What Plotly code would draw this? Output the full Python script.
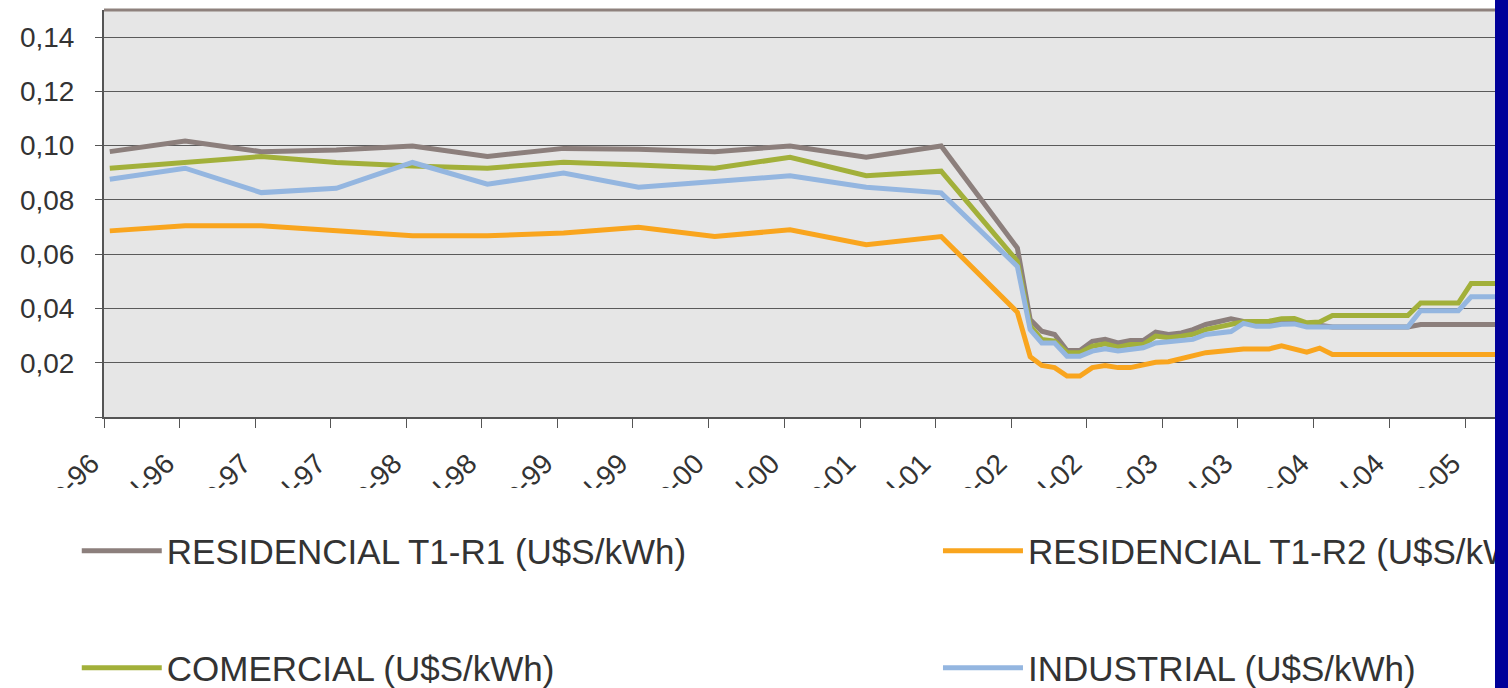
import plotly.graph_objects as go

# fechas: semestrales 1996-2001, luego mensuales 2002 - mar 2005
fechas_sem = ["1996-01-15", "1996-07-15", "1997-01-15", "1997-07-15",
              "1998-01-15", "1998-07-15", "1999-01-15", "1999-07-15",
              "2000-01-15", "2000-07-15", "2001-01-15", "2001-07-15"]
fechas_mes = [f"{a}-{m:02d}-15" for a in (2002, 2003, 2004) for m in range(1, 13)]
fechas_mes += ["2005-01-15", "2005-02-15", "2005-03-15"]
fechas = fechas_sem + fechas_mes

tick_vals = ["1996-01-01", "1996-07-01", "1997-01-01", "1997-07-01",
             "1998-01-01", "1998-07-01", "1999-01-01", "1999-07-01",
             "2000-01-01", "2000-07-01", "2001-01-01", "2001-07-01",
             "2002-01-01", "2002-07-01", "2003-01-01", "2003-07-01",
             "2004-01-01", "2004-07-01", "2005-01-01"]
tick_text = ["ene-96", "jul-96", "ene-97", "jul-97", "ene-98", "jul-98",
             "ene-99", "jul-99", "ene-00", "jul-00", "ene-01", "jul-01",
             "ene-02", "jul-02", "ene-03", "jul-03", "ene-04", "jul-04", "ene-05"]

residencial_r1 = [
    0.0978, 0.1017, 0.0978, 0.0984, 0.0999, 0.0960, 0.0990, 0.0987, 0.0978, 0.0999, 0.0957, 0.0999,
    0.0623, 0.0359, 0.0316, 0.0304, 0.0245, 0.0245, 0.0279, 0.0286, 0.0273, 0.0282, 0.0282, 0.0313,
    0.0304, 0.0310, 0.0322, 0.0341, 0.0351, 0.0362, 0.0352, 0.0350, 0.0350, 0.0350, 0.0350, 0.0345,
    0.0340, 0.0332, 0.0332, 0.0332, 0.0332, 0.0332, 0.0332, 0.0332, 0.0341, 0.0341, 0.0341, 0.0341,
    0.0341, 0.0341, 0.0341,
]
residencial_r2 = [
    0.0686, 0.0705, 0.0705, 0.0688, 0.0668, 0.0668, 0.0678, 0.0699, 0.0665, 0.0690, 0.0635, 0.0665,
    0.0386, 0.0222, 0.0190, 0.0182, 0.0151, 0.0151, 0.0182, 0.0190, 0.0182, 0.0182, 0.0194, 0.0202,
    0.0204, 0.0215, 0.0225, 0.0237, 0.0241, 0.0246, 0.0251, 0.0251, 0.0251, 0.0262, 0.0249, 0.0239,
    0.0254, 0.0230, 0.0230, 0.0230, 0.0230, 0.0230, 0.0230, 0.0230, 0.0230, 0.0230, 0.0230, 0.0230,
    0.0230, 0.0230, 0.0230,
]
comercial = [
    0.0917, 0.0939, 0.0960, 0.0938, 0.0925, 0.0917, 0.0939, 0.0929, 0.0917, 0.0957, 0.0889, 0.0906,
    0.0574, 0.0335, 0.0286, 0.0280, 0.0237, 0.0237, 0.0261, 0.0270, 0.0257, 0.0267, 0.0267, 0.0298,
    0.0292, 0.0298, 0.0305, 0.0322, 0.0332, 0.0343, 0.0351, 0.0352, 0.0353, 0.0362, 0.0363, 0.0347,
    0.0350, 0.0374, 0.0374, 0.0374, 0.0374, 0.0374, 0.0374, 0.0374, 0.0420, 0.0420, 0.0420, 0.0420,
    0.0492, 0.0492, 0.0492,
]
industrial = [
    0.0876, 0.0917, 0.0827, 0.0843, 0.0938, 0.0858, 0.0899, 0.0847, 0.0868, 0.0889, 0.0847, 0.0826,
    0.0555, 0.0322, 0.0273, 0.0273, 0.0224, 0.0224, 0.0243, 0.0251, 0.0243, 0.0251, 0.0255, 0.0273,
    0.0276, 0.0283, 0.0286, 0.0304, 0.0311, 0.0315, 0.0345, 0.0334, 0.0334, 0.0342, 0.0343, 0.0332,
    0.0332, 0.0332, 0.0332, 0.0332, 0.0332, 0.0332, 0.0332, 0.0332, 0.0392, 0.0392, 0.0392, 0.0392,
    0.0443, 0.0443, 0.0443,
]

y_vals = [0, 0.02, 0.04, 0.06, 0.08, 0.10, 0.12, 0.14]
y_text = ["", "0,02", "0,04", "0,06", "0,08", "0,10", "0,12", "0,14"]

FONT = "Liberation Sans, Arial, sans-serif"
TXT = "#333333"

fig = go.Figure()
series = [
    ("RESIDENCIAL T1-R1 (U$S/kWh)", residencial_r1, "#8C7F7C", "legend"),
    ("RESIDENCIAL T1-R2 (U$S/kWh)", residencial_r2, "#F9A51E", "legend2"),
    ("COMERCIAL (U$S/kWh)", comercial, "#A2B03A", "legend3"),
    ("INDUSTRIAL (U$S/kWh)", industrial, "#94B6E0", "legend4"),
]
for name, vals, col, leg in series:
    fig.add_trace(go.Scatter(x=fechas, y=vals, name=name, mode="lines",
                             line=dict(color=col, width=5), legend=leg))

def leyenda(x, y):
    return dict(x=x, y=y, orientation="h", xref="paper", yref="paper",
                xanchor="left", yanchor="middle", bgcolor="rgba(0,0,0,0)",
                itemwidth=80, font=dict(family=FONT, size=35, color=TXT))

fig.update_layout(
    width=1508, height=688,
    margin=dict(l=104, r=0, t=10, b=271, autoexpand=False),
    paper_bgcolor="white", plot_bgcolor="#E6E6E6",
    showlegend=True,
    legend=leyenda(-0.0194, -0.3292),
    legend2=leyenda(0.5940, -0.3292),
    legend3=leyenda(-0.0194, -0.6167),
    legend4=leyenda(0.5940, -0.6167),
    xaxis=dict(type="date", range=["1996-01-01", "2005-04-14"],
               tickvals=tick_vals, ticktext=tick_text, tickangle=-45,
               ticks="outside", ticklen=9, tickcolor="#555555",
               showline=True, linecolor="#555555", linewidth=2,
               showgrid=False, zeroline=False,
               ticklabelstandoff=8, ticklabelshift=-13,
               tickfont=dict(family=FONT, size=28, color=TXT)),
    yaxis=dict(range=[0, 0.15], tickvals=y_vals, ticktext=y_text,
               ticks="outside", ticklen=7, tickcolor="#555555",
               showline=True, linecolor="#555555", linewidth=2,
               showgrid=True, gridcolor="#5A5A5A", gridwidth=1, zeroline=False,
               ticklabelstandoff=15,
               tickfont=dict(family=FONT, size=28, color=TXT)),
)

# borde superior del area de grafico
fig.add_shape(type="line", xref="paper", yref="paper", x0=0, x1=1, y0=1, y1=1,
              line=dict(color="#8E817D", width=3), layer="above")
# la parte baja de las etiquetas queda tapada por el cuadro de leyenda
fig.add_shape(type="rect", xref="paper", yref="paper", x0=-0.1, x1=1.01,
              y0=-0.70, y1=-0.1744, fillcolor="white", line=dict(width=0),
              layer="above")
# franja azul del margen derecho de la diapositiva
fig.add_annotation(xref="paper", yref="paper", x=1, xanchor="right",
                   y=(417 - 344) / 407, yanchor="middle", text=" ",
                   width=13, height=688, bgcolor="#000099", showarrow=False,
                   borderpad=0, borderwidth=0)

# sin margen del body para que la figura ocupe toda la ventana
fig.write_html("out.html", config={"displayModeBar": False},
               post_script="document.body.style.margin='0px';")
